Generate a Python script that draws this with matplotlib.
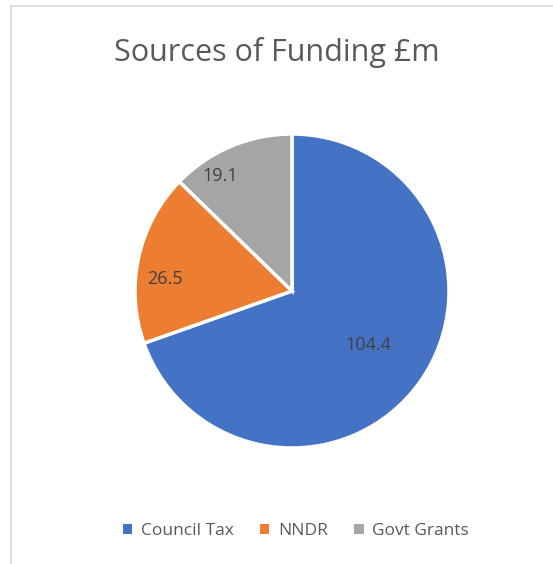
import numpy as np
import matplotlib.pyplot as plt
from matplotlib.lines import Line2D
from matplotlib.patches import Patch

title = "Sources of Funding £m"
categories = ["Council Tax", "NNDR", "Govt Grants"]
values = [104.4, 26.5, 19.1]
colors = ["#4472C4", "#ED7D31", "#A5A5A5"]
label_dist = [0.6, 0.81, 0.86]
label_shift = [0, 7, 9]  # degrees, Excel best-fit nudges


def main():
    plt.rcParams['font.family'] = ['Open Sans', 'DejaVu Sans']
    W, H = 553, 564
    fig = plt.figure(figsize=(W / 100, H / 100), dpi=100)

    # chart area border (top and left only visible)
    fig.add_artist(Line2D([11 / W, 1], [1 - 6 / H, 1 - 6 / H], color="#d9d9d9", lw=1.2))
    fig.add_artist(Line2D([11 / W, 11 / W], [0, 1 - 6 / H], color="#d9d9d9", lw=1.2))

    cx, cy, r = 292, 291, 157
    ax = fig.add_axes([(cx - r) / W, (H - cy - r) / H, 2 * r / W, 2 * r / H])
    wedges, _ = ax.pie(values, colors=colors, startangle=90, counterclock=False,
                       wedgeprops=dict(edgecolor="white", linewidth=2.5))
    ax.set_xlim(-1.0, 1.0)
    ax.set_ylim(-1.0, 1.0)
    ax.set_aspect("equal")
    ax.axis("off")

    for w, v, d, s in zip(wedges, values, label_dist, label_shift):
        ang = np.deg2rad((w.theta1 + w.theta2) / 2 + s)
        ax.text(d * np.cos(ang), d * np.sin(ang), f"{v}", ha="center", va="center",
                fontsize=13, color="#404040")

    fig.text(0.5, 1 - 52 / H, title, ha="center", va="center", fontsize=22, color="#595959")

    handles = [Patch(facecolor=c, edgecolor="none") for c in colors]
    fig.legend(handles, categories, loc="center", bbox_to_anchor=(0.535, 1 - 531 / H),
               ncol=3, frameon=False, fontsize=12.5, handlelength=0.55, handleheight=0.55,
               handletextpad=0.5, columnspacing=1.5, labelcolor="#595959")

    fig.savefig("out.png", dpi=100, facecolor="white")


if __name__ == "__main__":
    main()
